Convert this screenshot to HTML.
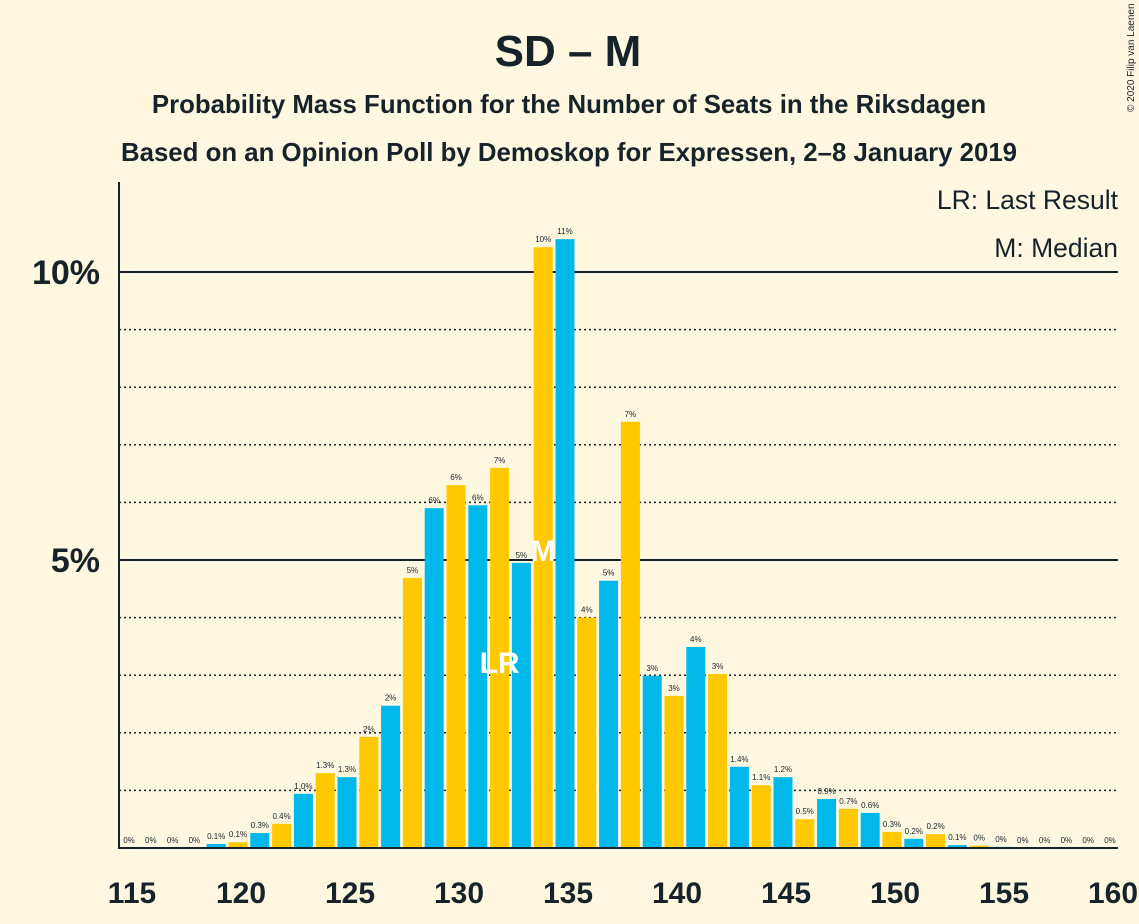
<!DOCTYPE html>
<html><head><meta charset="utf-8"><style>
body{margin:0;background:#FFF8E1;}
svg{display:block;font-family:"Liberation Sans",sans-serif;}
</style></head><body>
<svg width="1139" height="924" xmlns="http://www.w3.org/2000/svg">
<rect width="1139" height="924" fill="#FFF8E1"/>
<text x="568" y="66" text-anchor="middle" font-size="44" font-weight="bold" fill="#16232b">SD – M</text>
<text x="569" y="113" text-anchor="middle" font-size="25.8" font-weight="bold" fill="#16232b">Probability Mass Function for the Number of Seats in the Riksdagen</text>
<text x="569" y="161" text-anchor="middle" font-size="25.8" font-weight="bold" fill="#16232b">Based on an Opinion Poll by Demoskop for Expressen, 2–8 January 2019</text>
<text x="1134" y="112" font-size="10" fill="#16232b" transform="rotate(-90 1134 112)">© 2020 Filip van Laenen</text>
<g id="grid"></g>
<g id="bars"></g>
<g id="xt"></g>
<line x1="119" y1="182" x2="119" y2="849" stroke="#16232b" stroke-width="2"/>
<line x1="118" y1="848" x2="1118" y2="848" stroke="#16232b" stroke-width="2"/>
<text x="1118" y="209" text-anchor="end" font-size="26.5" fill="#16232b">LR: Last Result</text>
<text x="1118" y="257" text-anchor="end" font-size="26.5" fill="#16232b">M: Median</text>
</svg>
<script>
const seats=[115,116,117,118,119,120,121,122,123,124,125,126,127,128,129,130,131,132,133,134,135,136,137,138,139,140,141,142,143,144,145,146,147,148,149,150,151,152,153,154,155,156,157,158,159,160];
const probs=[0,0,0,0,0.07,0.1,0.26,0.42,0.94,1.3,1.23,1.93,2.47,4.69,5.9,6.3,5.95,6.6,4.95,10.43,10.57,4.0,4.64,7.4,2.99,2.64,3.49,3.02,1.41,1.09,1.23,0.5,0.85,0.68,0.61,0.28,0.16,0.24,0.05,0.04,0.02,0,0,0,0,0];
const labels=["0%","0%","0%","0%","0.1%","0.1%","0.3%","0.4%","1.0%","1.3%","1.3%","2%","2%","5%","6%","6%","6%","7%","5%","10%","11%","4%","5%","7%","3%","3%","4%","3%","1.4%","1.1%","1.2%","0.5%","0.9%","0.7%","0.6%","0.3%","0.2%","0.2%","0.1%","0%","0%","0%","0%","0%","0%","0%"];
const yTicks=[5,10];
const xTicks=[115,120,125,130,135,140,145,150,155,160];
const lastResult=132, median=134;
const NS="http://www.w3.org/2000/svg";
const X=s=>129+(s-115)*21.8;
const Y=p=>848-p*57.6;
function mk(t,a,parent,txt){const e=document.createElementNS(NS,t);for(const k in a)e.setAttribute(k,a[k]);if(txt!==undefined)e.textContent=txt;parent.appendChild(e);return e;}
const grid=document.getElementById('grid'),bars=document.getElementById('bars'),xt=document.getElementById('xt');
for(let p=1;p<=10;p++){
 const solid=yTicks.includes(p);
 const l=mk('line',{x1:119,x2:1118,y1:Y(p),y2:Y(p),stroke:'#16232b','stroke-width':solid?2:1.5,'stroke-dasharray':solid?'none':'2,3'},grid);
 
 
}
yTicks.forEach(p=>{
 const t=mk('text',{x:100,y:Y(p)+12,'text-anchor':'end','font-size':34,'font-weight':'bold',fill:'#16232b'},grid,p+'%');
 
 
});
seats.forEach((s,i)=>{
 const h=probs[i]*57.6;
 const r=mk('rect',{x:X(s)-9.5,y:Y(probs[i]),width:19,height:h,fill:s%2===0?'#FFC800':'#00B9EA'},bars);
 
 
 const t=mk('text',{x:X(s),y:Y(probs[i])-5,'text-anchor':'middle','font-size':8,fill:'#16232b'},bars,labels[i]);
 
 
});
const lr=mk('text',{x:X(lastResult),y:673,'text-anchor':'middle','font-size':30,'font-weight':'bold',fill:'#fff'},bars,'LR');


const m=mk('text',{x:X(median),y:561,'text-anchor':'middle','font-size':30,'font-weight':'bold',fill:'#fff'},bars,'M');


xTicks.forEach(s=>{
 const t=mk('text',{x:X(s)+3,y:903,'text-anchor':'middle','font-size':30,'font-weight':'bold',fill:'#16232b'},xt,String(s));
 
 
});
</script>
</body></html>
